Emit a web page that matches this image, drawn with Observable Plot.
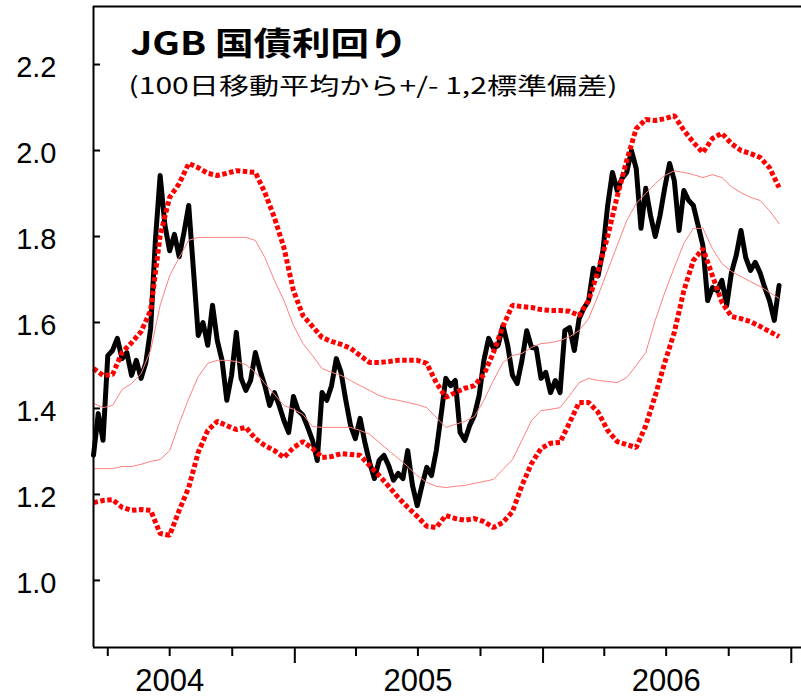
<!DOCTYPE html>
<html><head><meta charset="utf-8">
<script src="https://cdn.jsdelivr.net/npm/d3@7"></script>
<script src="https://cdn.jsdelivr.net/npm/@observablehq/plot@0.6"></script>
<style>body{margin:0;background:#fff}#chart{width:801px;height:699px}</style>
</head><body><div id="chart"></div>
<script>
const title = "JGB 国債利回り";
const subtitle = "(100日移動平均から+/- 1,2標準偏差)";

// Weekly yield series (first week = 2004-03-11)
const seriesStart = "2004-03-11";
const yieldWeekly = [
 1.291,1.388,1.326,1.523,1.535,1.563,1.516,1.530,1.477,1.512,
 1.470,1.507,1.586,1.791,1.942,1.826,1.767,1.805,1.753,1.809,
 1.872,1.721,1.570,1.600,1.547,1.640,1.558,1.512,1.419,1.477,
 1.577,1.470,1.442,1.465,1.530,1.488,1.453,1.407,1.437,1.407,
 1.372,1.344,1.428,1.395,1.384,1.356,1.326,1.279,1.437,1.419,
 1.453,1.516,1.484,1.419,1.360,1.330,1.377,1.321,1.274,1.237,
 1.279,1.291,1.267,1.233,1.249,1.237,1.302,1.221,1.174,1.221,
 1.263,1.244,1.302,1.384,1.470,1.453,1.465,1.344,1.326,1.360,
 1.384,1.430,1.512,1.563,1.540,1.547,1.593,1.547,1.477,1.458,
 1.512,1.581,1.542,1.540,1.470,1.484,1.437,1.465,1.437,1.581,
 1.588,1.535,1.609,1.633,1.651,1.726,1.709,1.767,1.872,1.949,
 1.907,1.935,1.949,2.000,1.958,1.819,1.912,1.849,1.800,1.849,
 1.914,1.970,1.930,1.814,1.907,1.884,1.872,1.826,1.779,1.651,
 1.681,1.674,1.698,1.640,1.716,1.756,1.814,1.751,1.721,1.740,
 1.716,1.681,1.651,1.605,1.686];

// Bands, every two weeks from the same start
const upper2 = [
 1.493,1.477,1.479,1.530,1.553,1.579,1.628,1.802,1.891,1.923,
 1.970,1.960,1.947,1.942,1.947,1.953,1.951,1.949,1.902,1.844,
 1.774,1.674,1.616,1.591,1.565,1.556,1.549,1.540,1.523,1.507,
 1.507,1.509,1.512,1.512,1.512,1.505,1.460,1.426,1.437,1.447,
 1.453,1.479,1.530,1.591,1.640,1.637,1.635,1.630,1.628,1.628,
 1.626,1.616,1.651,1.721,1.800,1.893,1.977,2.051,2.072,2.070,
 2.074,2.081,2.047,2.019,1.995,2.028,2.040,2.016,2.000,1.993,
 1.984,1.960,1.914];
const upper1 = [
 1.412,1.402,1.407,1.444,1.458,1.481,1.535,1.640,1.709,1.751,
 1.791,1.798,1.798,1.798,1.798,1.798,1.798,1.791,1.751,1.698,
 1.651,1.593,1.551,1.523,1.493,1.484,1.477,1.465,1.453,1.442,
 1.430,1.423,1.419,1.414,1.409,1.402,1.379,1.356,1.363,1.370,
 1.381,1.419,1.465,1.507,1.523,1.528,1.542,1.551,1.553,1.558,
 1.567,1.581,1.609,1.663,1.721,1.779,1.837,1.877,1.900,1.923,
 1.942,1.953,1.949,1.944,1.937,1.944,1.937,1.916,1.902,1.891,
 1.884,1.860,1.830];
const lower1 = [
 1.260,1.260,1.260,1.265,1.265,1.270,1.277,1.281,1.302,1.365,
 1.423,1.474,1.505,1.512,1.512,1.509,1.502,1.484,1.458,1.433,
 1.407,1.398,1.386,1.358,1.356,1.356,1.356,1.356,1.349,1.340,
 1.321,1.302,1.284,1.265,1.244,1.228,1.219,1.216,1.219,1.221,
 1.226,1.230,1.235,1.258,1.281,1.326,1.372,1.395,1.398,1.402,
 1.430,1.460,1.470,1.465,1.463,1.460,1.472,1.500,1.530,1.605,
 1.670,1.728,1.784,1.819,1.819,1.772,1.737,1.719,1.707,1.695,
 1.684,1.670,1.656];
const lower2 = [
 1.181,1.186,1.188,1.170,1.163,1.165,1.163,1.109,1.105,1.163,
 1.216,1.298,1.349,1.370,1.360,1.351,1.356,1.330,1.314,1.302,
 1.286,1.309,1.323,1.307,1.286,1.288,1.295,1.293,1.291,1.267,
 1.244,1.219,1.193,1.170,1.149,1.126,1.123,1.151,1.144,1.140,
 1.144,1.137,1.123,1.135,1.160,1.221,1.272,1.307,1.319,1.321,
 1.367,1.414,1.414,1.391,1.349,1.323,1.316,1.309,1.360,1.430,
 1.507,1.577,1.674,1.744,1.772,1.709,1.647,1.614,1.609,1.602,
 1.591,1.579,1.567];

const yTicks = [1.0, 1.2, 1.4, 1.6, 1.8, 2.0, 2.2];
const quarterTicks = ["2004-04-01","2004-07-01","2004-10-01","2005-04-01","2005-07-01","2005-10-01","2006-04-01","2006-07-01","2006-10-01"];
const yearTicks = ["2005-01-01","2006-01-01","2007-01-01"];
const yearLabelDates = ["2004-07-01","2005-07-01","2006-07-01"];
const yearLabels = ["2004","2005","2006"];
const xDomain = ["2004-03-11","2007-01-16"];
const yDomain = [0.844, 2.335];

const P = s => new Date(s + "T00:00:00Z");
const start = P(seriesStart);
const black = yieldWeekly.map((v, i) => ({date: d3.utcDay.offset(start, 7 * i), v}));
const band = arr => arr.map((v, j) => ({date: d3.utcDay.offset(start, 14 * j), v}));

const axisFont = "Liberation Sans";
const jpFont = "Noto Sans CJK JP";
const labelDates = yearLabelDates.map(P);
const dotted = {stroke: "#ff0000", strokeWidth: 5, strokeDasharray: "4.5,2.5", strokeLinecap: "butt", strokeLinejoin: "miter"};

const chart = Plot.plot({
  width: 801, height: 699,
  marginLeft: 93, marginRight: 0, marginTop: 6, marginBottom: 52,
  style: {fontFamily: axisFont, background: "#fff", color: "#000"},
  x: {type: "utc", domain: xDomain.map(P), label: null},
  y: {domain: yDomain, label: null},
  marks: [
    Plot.line(black, {x: "date", y: "v", stroke: "#000", strokeWidth: 5, strokeLinejoin: "round"}),
    Plot.line(band(upper1), {x: "date", y: "v", stroke: "#ff8080", strokeWidth: 1}),
    Plot.line(band(lower1), {x: "date", y: "v", stroke: "#ff8080", strokeWidth: 1}),
    Plot.line(band(upper2), {x: "date", y: "v", ...dotted}),
    Plot.line(band(lower2), {x: "date", y: "v", ...dotted}),
    Plot.ruleX([P(xDomain[0])], {stroke: "#000", strokeWidth: 2}),
    Plot.ruleY([yDomain[1]], {stroke: "#000", strokeWidth: 2}),
    Plot.ruleY([yDomain[0]], {stroke: "#000", strokeWidth: 2}),
    Plot.axisY({ticks: yTicks, tickSize: 7, dx: 7, tickFormat: () => "", strokeWidth: 2, label: null}),
    Plot.axisY({ticks: yTicks, tickSize: 0, tickPadding: 37, tickFormat: d3.format(".1f"), label: null,
      fontSize: 29, fontFamily: axisFont, dy: 3}),
    Plot.axisX({ticks: quarterTicks.map(P), tickSize: 9, tickFormat: () => "", strokeWidth: 2, label: null}),
    Plot.axisX({ticks: yearTicks.map(P), tickSize: 16, tickFormat: () => "", strokeWidth: 2, label: null}),
    Plot.axisX({ticks: labelDates, tickSize: 0, tickPadding: 21, fontSize: 31, fontFamily: axisFont, label: null,
      tickFormat: d => yearLabels[labelDates.findIndex(m => +m === +d)]}),
    Plot.text([title], {frameAnchor: "top-left", dx: 37, dy: 26, fontSize: 32, fontWeight: "bold",
      fontFamily: jpFont, textAnchor: "start", lineAnchor: "top", fill: "#000"}),
    Plot.text([subtitle], {frameAnchor: "top-left", dx: 35, dy: 71, fontSize: 23,
      fontFamily: jpFont, textAnchor: "start", lineAnchor: "top", fill: "#000"})
  ]
});
d3.select(chart).selectAll("text").each(function() {
  if (this.textContent === title) d3.select(this).attr("textLength", 277).attr("lengthAdjust", "spacingAndGlyphs");
  if (this.textContent === subtitle) d3.select(this).attr("textLength", 489).attr("lengthAdjust", "spacingAndGlyphs");
});
document.getElementById("chart").append(chart);
</script>
</body></html>
